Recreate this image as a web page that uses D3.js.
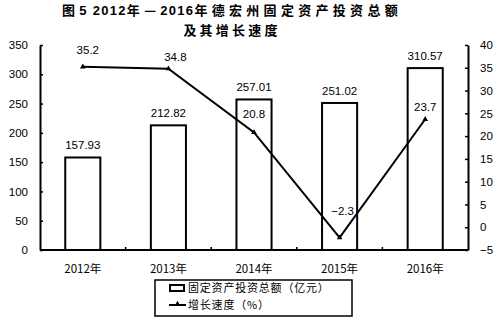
<!DOCTYPE html>
<html><head><meta charset="utf-8">
<script src="https://cdn.jsdelivr.net/npm/d3@7"></script>
<style>
body{margin:0;background:#fff;}
text{font-family:"Liberation Sans",Arial,sans-serif;fill:#000;}
.cjk{font-family:"Noto Sans CJK SC","Liberation Sans",sans-serif;}
</style></head>
<body><svg id="c" width="500" height="318"></svg>
<script>
const categories = ["2012年","2013年","2014年","2015年","2016年"];
const investment = [157.93, 212.82, 257.01, 251.02, 310.57];
const growth = [35.2, 34.8, 20.8, -2.3, 23.7];
const leftTicks = [0,50,100,150,200,250,300,350];
const rightTicks = [-5,0,5,10,15,20,25,30,35,40];
const titleLines = ["图5 2012年—2016年德宏州固定资产投资总额","及其增长速度"];
const legendLabels = ["固定资产投资总额（亿元）","增长速度（%）"];

const svg = d3.select("#c");
const L=40, R=468, T=45, B=250;
const x = d3.scaleBand().domain(categories).range([L,R]).paddingInner(0.59).paddingOuter(0.295);
const xb = d3.scaleBand().domain(categories).range([L,R]);
const yL = d3.scaleLinear().domain([0,350]).range([B,T]);
const yR = d3.scaleLinear().domain([-5,40]).range([B,T]);

// title (digit runs in Latin bold, CJK runs letter-spaced)
function titleText(str, y, size, cjkSp){
  const t = svg.append("text").attr("x",232).attr("y",y).attr("text-anchor","middle")
    .attr("font-size",size).attr("font-weight","bold");
  str.split(/([0-9 ]+)/).filter(s=>s.length).forEach(s=>{
    const isNum = /^[0-9 ]+$/.test(s);
    t.append("tspan").attr("font-family", isNum ? "Liberation Sans, Arial, sans-serif" : "Noto Sans CJK SC, sans-serif")
      .attr("letter-spacing", isNum ? 1.3 : cjkSp).text(s);
  });
}
titleText(titleLines[0], 15, 13, 4.3);
titleText(titleLines[1], 35, 13, 3.2);

// axes
const gl = svg.append("g").attr("transform",`translate(${L},0)`)
  .call(d3.axisLeft(yL).tickValues(leftTicks).tickSize(-3).tickPadding(12).tickSizeOuter(0));
const gr = svg.append("g").attr("transform",`translate(${R},0)`)
  .call(d3.axisRight(yR).tickValues(rightTicks).tickSize(-3).tickPadding(12).tickSizeOuter(0).tickFormat(d=>d<0?"−"+Math.abs(d):d));
[gl,gr].forEach(g=>{
  g.select(".domain").attr("stroke","#000").attr("stroke-width",2);
  g.selectAll(".tick line").attr("stroke","#000").attr("stroke-width",1.5);
  g.selectAll(".tick text").attr("font-size",11.5).attr("font-family","Liberation Sans, Arial, sans-serif");
});
// bottom axis
svg.append("line").attr("x1",L).attr("x2",R).attr("y1",B).attr("y2",B).attr("stroke","#000").attr("stroke-width",2);
svg.selectAll(".bt").data(categories.slice(1)).enter().append("line")
  .attr("x1",d=>xb(d)).attr("x2",d=>xb(d)).attr("y1",B).attr("y2",B-3).attr("stroke","#000").attr("stroke-width",1.5);
svg.selectAll(".xl").data(categories).enter().append("text").attr("class","cjk")
  .attr("x",d=>x(d)+x.bandwidth()/2).attr("y",B+23).attr("text-anchor","middle").attr("font-size",11.5)
  .text(d=>d);

// bars
svg.selectAll(".bar").data(investment).enter().append("rect")
  .attr("x",(d,i)=>x(categories[i])).attr("width",x.bandwidth())
  .attr("y",d=>yL(d)).attr("height",d=>B-yL(d))
  .attr("fill","#fff").attr("stroke","#000").attr("stroke-width",2);
svg.selectAll(".bl").data(investment).enter().append("text")
  .attr("x",(d,i)=>x(categories[i])+x.bandwidth()/2).attr("y",d=>yL(d)-8)
  .attr("text-anchor","middle").attr("font-size",11.5).text(d=>d.toFixed(2));

// line
const cx = (i)=>x(categories[i])+x.bandwidth()/2;
const line = d3.line().x((d,i)=>cx(i)).y(d=>yR(d));
svg.append("path").datum(growth).attr("d",line).attr("fill","none").attr("stroke","#000").attr("stroke-width",2);
const tri = d3.symbol().type(d3.symbolTriangle).size(14);
svg.selectAll(".mk").data(growth).enter().append("path").attr("d",tri)
  .attr("transform",(d,i)=>`translate(${cx(i)},${yR(d)})`).attr("fill","#000");
const lblOff = [[5,-13],[7,-8],[0,-14],[3,-23],[0,-8]];
svg.selectAll(".gl").data(growth).enter().append("text")
  .attr("x",(d,i)=>cx(i)+lblOff[i][0]).attr("y",(d,i)=>yR(d)+lblOff[i][1])
  .attr("text-anchor","middle").attr("font-size",11.5)
  .text(d=>d<0?"−"+Math.abs(d):d);

// legend
svg.append("rect").attr("x",155).attr("y",280).attr("width",197).attr("height",36)
  .attr("fill","#fff").attr("stroke","#000").attr("stroke-width",1.5);
svg.append("rect").attr("x",170).attr("y",285).attr("width",14).attr("height",6)
  .attr("fill","#fff").attr("stroke","#000").attr("stroke-width",2);
svg.append("line").attr("x1",169).attr("x2",186).attr("y1",305).attr("y2",305).attr("stroke","#000").attr("stroke-width",2);
svg.append("path").attr("d",tri).attr("transform","translate(177.5,304)").attr("fill","#000");
svg.append("text").attr("class","cjk").attr("x",188).attr("y",292).attr("font-size",11).attr("letter-spacing",0.8).text(legendLabels[0]);
svg.append("text").attr("class","cjk").attr("x",188).attr("y",309).attr("font-size",11).attr("letter-spacing",0.8).text(legendLabels[1]);
</script></body></html>
